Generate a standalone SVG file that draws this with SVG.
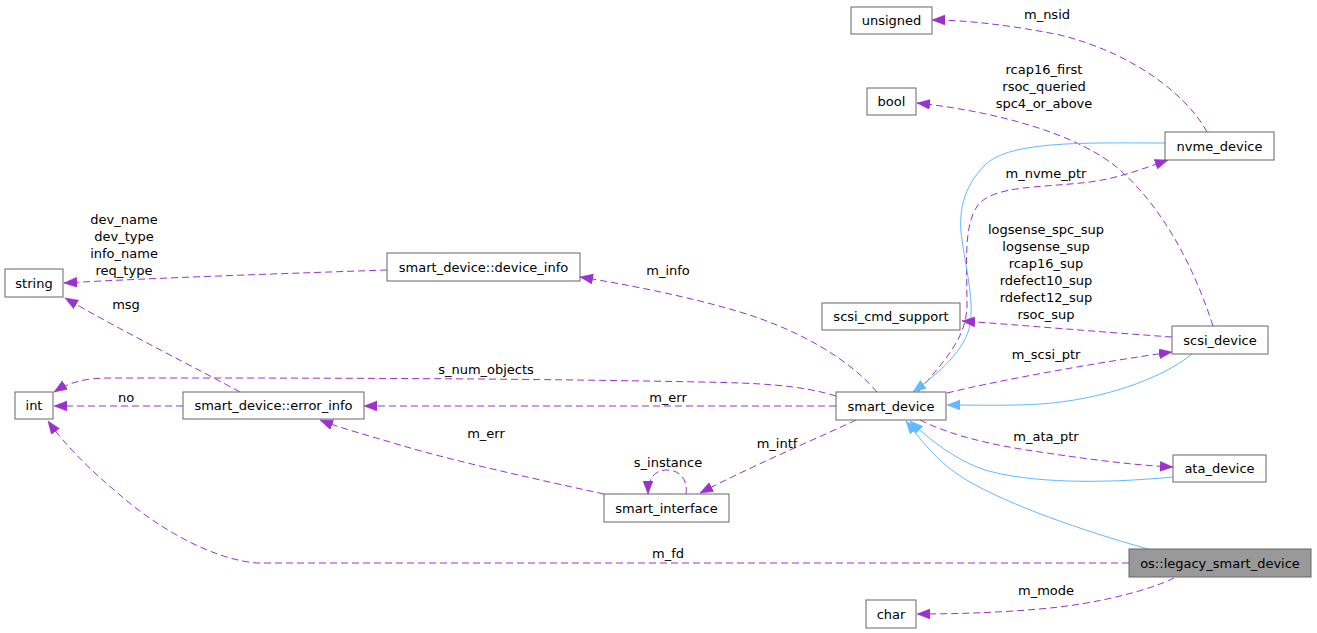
<svg xmlns="http://www.w3.org/2000/svg" width="1317" height="633" viewBox="0 0 1317 633">
<style>
.n rect{fill:#ffffff;stroke:#666666;stroke-width:1}
.n text,.l{font-family:"DejaVu Sans","Liberation Sans",sans-serif;font-size:13px;fill:#000000}
.n text{text-anchor:middle}
.l{text-anchor:middle}
.c{fill:none;stroke:#9a32cd;stroke-width:1;stroke-dasharray:7,4;marker-end:url(#pa)}
.i{fill:none;stroke:#63b8ff;stroke-width:1;marker-end:url(#ba)}
</style>
<defs>
<marker id="pa" markerUnits="userSpaceOnUse" markerWidth="15" markerHeight="12" refX="13" refY="5" orient="auto"><path d="M0,0 L13,5 L0,10 z" fill="#9a32cd" stroke="#9a32cd" stroke-width="0.5"/></marker>
<marker id="ba" markerUnits="userSpaceOnUse" markerWidth="15" markerHeight="12" refX="13" refY="5" orient="auto"><path d="M0,0 L13,5 L0,10 z" fill="#63b8ff" stroke="#63b8ff" stroke-width="0.5"/></marker>
</defs>
<rect width="1317" height="633" fill="#ffffff"/>
<g id="connectors">
<path class="c" d="M1207,132 C1190,100 1140,55 1060,35 C1010,25 965,20 932,20"/>
<path class="c" d="M1213,326 C1195,270 1165,210 1120,170 C1080,135 1000,112 917,103"/>
<path class="c" d="M918,392 C940,365 967,340 967,305 C967,265 963,225 978,205 C995,185 1040,188 1090,182 C1120,178 1145,168 1168,160"/>
<path class="i" d="M1165,143 C1090,143 1010,140 985,165 C962,188 958,215 962,240 C967,275 974,300 970,325 C965,350 940,372 913,392"/>
<path class="c" d="M1172,337 C1100,332 1020,325 962,321"/>
<path class="c" d="M947,393 C1000,380 1100,362 1172,352"/>
<path class="i" d="M1192,354 C1160,380 1100,400 1040,404 C1010,406 975,405 947,405"/>
<path class="c" d="M920,420 C950,435 990,445 1040,452 C1080,458 1130,465 1173,467"/>
<path class="i" d="M1173,477 C1100,484 1030,483 985,470 C955,460 930,440 910,421"/>
<path class="i" d="M1148,549 C1080,530 1010,505 970,482 C940,465 925,445 906,421"/>
<path class="c" d="M877,392 C850,360 800,330 740,312 C690,297 630,285 580,277"/>
<path class="c" d="M836,396 C800,385 760,383 700,382 C500,378 300,378 110,378 C85,378 70,382 54,392"/>
<path class="c" d="M836,406 L364,406"/>
<path class="c" d="M856,420 C825,435 760,462 700,493"/>
<path class="c" d="M604,494 C530,478 450,460 400,445 C370,436 340,428 320,420"/>
<path class="c" d="M686,494 C688,480 680,470 667,470 C655,470 648,478 648,494"/>
<path class="c" d="M240,392 C200,370 120,330 65,298"/>
<path class="c" d="M183,406 L54,406"/>
<path class="c" d="M387,270 C300,273 150,278 64,283"/>
<path class="c" d="M1129,563 L257,563 C215,560 160,530 120,495 C90,470 65,445 48,421"/>
<path class="c" d="M1174,578 C1150,590 1100,603 1050,608 C1000,613 950,614 917,614"/>
<text class="l" x="1047" y="18.5">m_nsid</text>
<text class="l" x="1044" y="74">rcap16_first</text>
<text class="l" x="1044" y="91">rsoc_queried</text>
<text class="l" x="1044" y="108">spc4_or_above</text>
<text class="l" x="1046" y="177.5">m_nvme_ptr</text>
<text class="l" x="1046" y="234">logsense_spc_sup</text>
<text class="l" x="1046" y="251">logsense_sup</text>
<text class="l" x="1046" y="268">rcap16_sup</text>
<text class="l" x="1046" y="285">rdefect10_sup</text>
<text class="l" x="1046" y="302">rdefect12_sup</text>
<text class="l" x="1046" y="319">rsoc_sup</text>
<text class="l" x="1046" y="358.5">m_scsi_ptr</text>
<text class="l" x="1046" y="440.5">m_ata_ptr</text>
<text class="l" x="668" y="274.5">m_info</text>
<text class="l" x="486" y="373.5">s_num_objects</text>
<text class="l" x="668" y="401.5">m_err</text>
<text class="l" x="777" y="447.5">m_intf</text>
<text class="l" x="486" y="437.5">m_err</text>
<text class="l" x="668" y="466.5">s_instance</text>
<text class="l" x="126" y="308.5">msg</text>
<text class="l" x="126" y="401.5">no</text>
<text class="l" x="124" y="223.5">dev_name</text>
<text class="l" x="124" y="240.5">dev_type</text>
<text class="l" x="124" y="257.5">info_name</text>
<text class="l" x="124" y="274.5">req_type</text>
<text class="l" x="668" y="557.5">m_fd</text>
<text class="l" x="1046" y="594.5">m_mode</text>
</g>
<g id="unsigned" class="n"><rect x="851" y="7" width="81" height="27"/><text x="891.5" y="25">unsigned</text></g>
<g id="bool" class="n"><rect x="867" y="88" width="49" height="27"/><text x="891.5" y="106">bool</text></g>
<g id="nvme_device" class="n"><rect x="1165" y="132" width="109" height="28"/><text x="1219.5" y="150.5">nvme_device</text></g>
<g id="scsi_cmd_support" class="n"><rect x="822" y="303" width="138" height="27"/><text x="891" y="321">scsi_cmd_support</text></g>
<g id="scsi_device" class="n"><rect x="1172" y="326" width="96" height="28"/><text x="1220" y="344.5">scsi_device</text></g>
<g id="string" class="n"><rect x="5" y="269" width="58" height="28"/><text x="34" y="287.5">string</text></g>
<g id="int" class="n"><rect x="15" y="392" width="38" height="27"/><text x="34" y="410">int</text></g>
<g id="error_info" class="n"><rect x="183" y="392" width="181" height="27"/><text x="273.5" y="410">smart_device::error_info</text></g>
<g id="device_info" class="n"><rect x="387" y="253" width="193" height="28"/><text x="483.5" y="271.5">smart_device::device_info</text></g>
<g id="smart_interface" class="n"><rect x="604" y="494" width="125" height="28"/><text x="666.5" y="512.5">smart_interface</text></g>
<g id="smart_device" class="n"><rect x="836" y="392" width="110" height="28"/><text x="891" y="410.5">smart_device</text></g>
<g id="ata_device" class="n"><rect x="1173" y="455" width="93" height="27"/><text x="1219.5" y="473">ata_device</text></g>
<g id="legacy_smart_device" class="n"><rect x="1129" y="549" width="182" height="28" style="fill:#999999"/><text x="1220" y="567.5">os::legacy_smart_device</text></g>
<g id="char" class="n"><rect x="866" y="600" width="50" height="28"/><text x="891" y="618.5">char</text></g>
</svg>
